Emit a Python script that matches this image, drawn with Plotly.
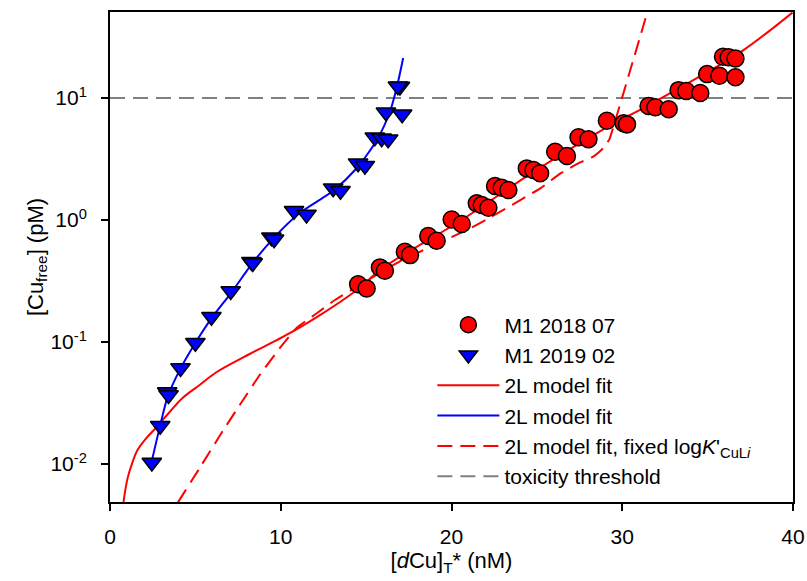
import plotly.graph_objects as go

# Titration data: total dissolved Cu (nM) vs free Cu (pM)
cu_total_2018 = [14.53, 15.03, 15.81, 16.10, 17.27, 17.57, 18.64, 19.13, 20.01, 20.60,
                 21.48, 21.77, 22.16, 22.55, 22.94, 23.33, 24.41, 24.80, 25.19, 26.07,
                 26.76, 27.44, 28.02, 29.10, 30.08, 30.28, 31.54, 31.94, 32.72, 33.30,
                 33.75, 34.57, 34.97, 35.69, 36.63, 35.90, 36.23, 36.63]
cu_free_2018 = [0.298, 0.275, 0.409, 0.384, 0.550, 0.516, 0.740, 0.676, 1.01, 0.927,
                1.37, 1.33, 1.26, 1.90, 1.84, 1.76, 2.65, 2.57, 2.42, 3.63,
                3.35, 4.76, 4.59, 6.52, 6.21, 6.08, 8.60, 8.39, 8.08, 11.6,
                11.4, 11.0, 15.7, 15.2, 14.8, 21.8, 21.6, 21.1]

cu_total_2019 = [2.45, 2.94, 3.35, 3.43, 4.13, 5.00, 5.94, 7.07, 8.28, 8.36,
                 9.45, 9.61, 10.78, 11.51, 13.07, 13.50, 14.53, 14.93, 15.51, 15.91,
                 16.29, 16.16, 17.11, 16.98, 16.86]
cu_free_2019 = [0.0103, 0.0206, 0.0389, 0.0368, 0.0612, 0.0987, 0.161, 0.262, 0.455, 0.445,
                0.721, 0.695, 1.19, 1.11, 1.82, 1.74, 2.92, 2.79, 4.76, 4.68,
                4.59, 7.64, 7.35, 12.4, 12.5]

# Two-ligand model fits
fit_2018_x = [0.79, 1.03, 1.32, 1.61, 2.08, 2.73, 3.49, 4.25, 5.25, 6.25, 8.18,
              10.12, 12.11, 14.46, 15.98, 20.50, 24.78, 29.12, 31.23, 34.57, 37.10, 39.97]
fit_2018_y = [0.00489, 0.00767, 0.01038, 0.01303, 0.01603, 0.0201, 0.0267, 0.0348, 0.0445, 0.0568,
              0.0798, 0.110, 0.160, 0.267, 0.405, 0.982, 2.47, 5.78, 8.28, 15.1, 24.7, 50.2]

fit_2019_x = [2.45, 2.90, 3.37, 4.08, 4.96, 5.95, 7.13, 8.30, 9.53, 11.11,
              13.05, 14.46, 15.63, 16.39, 16.80, 17.17]
fit_2019_y = [0.0106, 0.0197, 0.0354, 0.0589, 0.0964, 0.157, 0.257, 0.435, 0.698, 1.14,
              1.73, 2.67, 4.53, 7.68, 12.3, 21.3]

fit_2018_fixed_x = [3.98, 5.25, 6.52, 7.60, 8.77, 9.94, 10.94, 12.11, 13.17, 14.22,
                    17.0, 20.9, 22.0, 25.2, 26.4, 27.5, 28.3, 28.9, 29.25, 29.45, 31.45]
fit_2018_fixed_y = [0.00485, 0.00927, 0.0179, 0.0305, 0.0537, 0.089, 0.131, 0.172, 0.221, 0.272,
                    0.46, 0.83, 1.0, 1.82, 2.42, 2.95, 3.31, 3.9, 4.6, 5.6, 49.4]

toxicity_threshold = 10.0
x_range = [0, 40]

x_ticks = [0, 10, 20, 30, 40]
y_ticks = [0.01, 0.1, 1, 10]
y_ticktext = ["10<sup>-2</sup>", "10<sup>-1</sup>", "10<sup>0</sup>", "10<sup>1</sup>"]

FONT = "Liberation Sans, Arial, sans-serif"

fig = go.Figure()

fig.add_trace(go.Scatter(
    x=x_range, y=[toxicity_threshold, toxicity_threshold], mode="lines",
    line=dict(color="#808080", width=2, dash="15px,8px"),
    name="toxicity threshold", legendrank=6))

fig.add_trace(go.Scatter(
    x=fit_2018_x, y=fit_2018_y, mode="lines",
    line=dict(color="#ff0000", width=2, shape="spline", smoothing=1.0),
    name="2L model fit", legendrank=3))

fig.add_trace(go.Scatter(
    x=fit_2019_x, y=fit_2019_y, mode="lines",
    line=dict(color="#0000ff", width=2, shape="spline", smoothing=0.7),
    name="2L model fit", legendrank=4))

fig.add_trace(go.Scatter(
    x=fit_2018_fixed_x, y=fit_2018_fixed_y, mode="lines",
    line=dict(color="#ff0000", width=2, dash="15px,8px", shape="spline", smoothing=0.4),
    name="2L model fit, fixed log<i>K</i>'<sub>CuL<i>i</i></sub>", legendrank=5))

fig.add_trace(go.Scatter(
    x=cu_total_2018, y=cu_free_2018, mode="markers",
    marker=dict(symbol="circle", size=17, color="#ff0000",
                line=dict(color="black", width=1.5)),
    name="M1 2018 07", legendrank=1))

fig.add_trace(go.Scatter(
    x=cu_total_2019, y=cu_free_2019, mode="markers",
    marker=dict(symbol="triangle-down", size=17, color="#0000ff",
                line=dict(color="black", width=1.5)),
    name="M1 2019 02", legendrank=2))

fig.update_layout(
    width=807, height=581,
    margin=dict(l=110, r=14, t=12, b=79, autoexpand=False),
    paper_bgcolor="white", plot_bgcolor="white",
    font=dict(family=FONT, color="black", size=21),
    showlegend=True,
    legend=dict(x=0.472, y=0.403, xanchor="left", yanchor="top",
                bgcolor="rgba(0,0,0,0)", borderwidth=0,
                font=dict(family=FONT, size=21, color="black"),
                itemwidth=62),
)

fig.update_xaxes(
    range=x_range, tickvals=x_ticks, ticks="outside", ticklen=7, tickwidth=1.5,
    tickcolor="black", showline=True, linewidth=2, linecolor="black", mirror=True,
    showgrid=False, zeroline=False, tickfont=dict(size=21), automargin=False,
    ticklabelstandoff=8,
    title=dict(text="[<i>d</i>Cu]<sub>T</sub>* (nM)", font=dict(size=22), standoff=5),
)

fig.update_yaxes(
    type="log", range=[-2.311, 1.705], tickvals=y_ticks, ticktext=y_ticktext,
    ticks="outside", ticklen=7, tickwidth=1.5, tickcolor="black",
    showline=True, linewidth=2, linecolor="black", mirror=True,
    showgrid=False, zeroline=False, tickfont=dict(size=21), automargin=False,
    ticklabelstandoff=10,
    title=dict(text="[Cu<sub>free</sub>] (pM)", font=dict(size=22), standoff=1),
)

fig.write_html("out.html")
